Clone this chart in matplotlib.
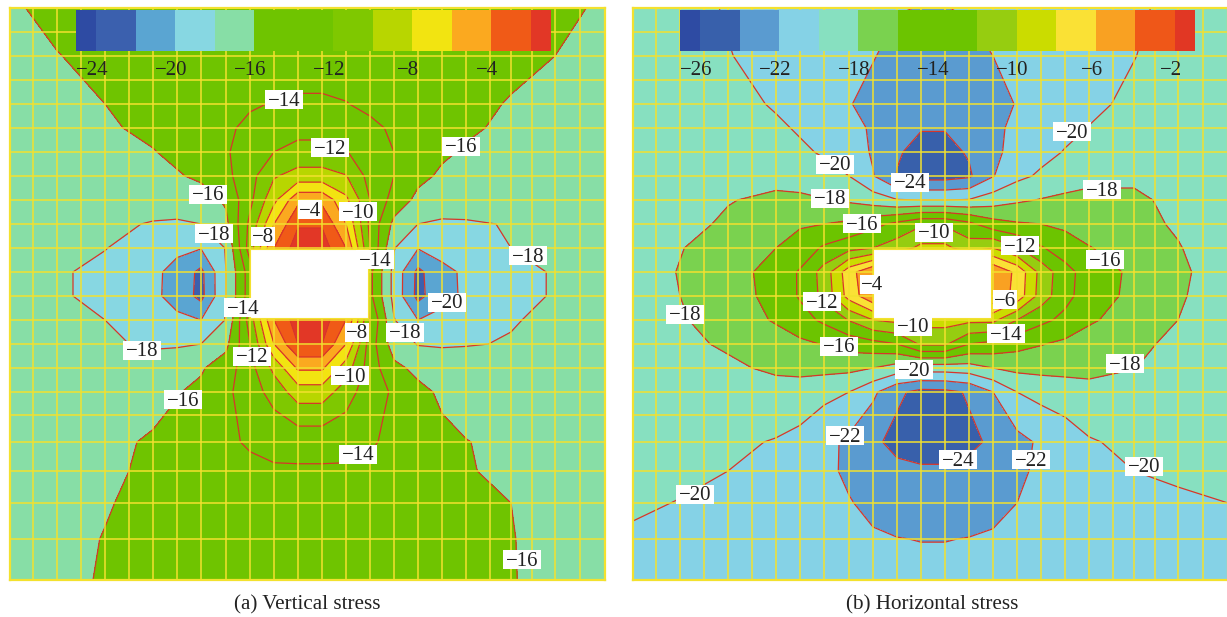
import numpy as np
import matplotlib
matplotlib.use("Agg")
import matplotlib.pyplot as plt
from matplotlib.patches import Rectangle
from matplotlib.transforms import ScaledTranslation

plt.rcParams['font.family'] = ['Liberation Serif', 'DejaVu Serif']

# Mesh drawn on top of the maps
mesh_x = [10, 33, 57, 81, 105, 129, 153, 177, 201, 226, 250, 274, 298, 322, 346, 370, 394, 418, 442, 466, 490, 511, 532, 555, 580, 605]
mesh_y = [8, 32, 56, 80, 104, 128, 152, 176, 200, 224, 248, 272, 296, 320, 344, 368, 392, 415, 442, 471, 503, 539, 580]

node_x = [10, 57, 105, 153, 177, 201, 226, 250, 274, 298, 322, 346, 370, 394, 418, 442, 466, 511, 555, 605]
node_y = [8, 56, 104, 128, 152, 176, 200, 224, 248, 272, 296, 320, 344, 368, 392, 442, 471, 503, 539, 580]

vertical_stress = [
    [-16.2, -15.6, -15.4, -15.3, -15.3, -15.3, -15.3, -15.3, -15.2, -15.2, -15.2, -15.2, -15.3, -15.3, -15.3, -15.3, -15.4, -15.4, -15.5, -16.3],
    [-16.8, -16.05, -15.6, -15.2, -15.1, -15.0, -15.0, -14.9, -14.8, -14.7, -14.7, -14.8, -14.9, -15.0, -15.0, -15.1, -15.2, -15.6, -16.0, -16.8],
    [-17.3, -16.7, -16.0, -15.4, -15.2, -15.0, -14.7, -14.2, -13.9, -13.8, -13.8, -13.95, -14.3, -14.8, -15.0, -15.3, -15.6, -16.1, -16.7, -17.3],
    [-17.4, -16.9, -16.3, -15.5, -15.2, -14.9, -14.3, -13.6, -13.0, -12.6, -12.6, -13.0, -13.7, -14.2, -14.7, -15.2, -15.7, -16.4, -16.9, -17.4],
    [-17.5, -17.1, -16.7, -16.1, -15.5, -14.9, -14.2, -13.0, -12.0, -11.4, -11.4, -11.9, -13.0, -14.0, -14.7, -15.7, -16.2, -16.8, -17.1, -17.5],
    [-17.5, -17.3, -17.1, -16.7, -16.2, -15.6, -14.5, -12.7, -10.2, -9.2, -9.2, -9.9, -12.7, -14.0, -15.5, -16.3, -16.7, -17.1, -17.3, -17.5],
    [-17.5, -17.4, -17.4, -17.3, -17.2, -17.0, -15.7, -12.5, -8.5, -4.5, -4.5, -7.5, -12.0, -14.8, -16.5, -16.9, -17.1, -17.3, -17.4, -17.5],
    [-17.5, -17.5, -17.7, -18.1, -18.2, -18.0, -16.5, -11.5, -6.0, -2.2, -2.2, -6.0, -12.5, -16.5, -18.0, -18.3, -18.2, -17.9, -17.6, -17.5],
    [-17.5, -17.7, -17.95, -18.8, -19.6, -19.9, -17.9, -11.0, -4.0, -1.0, -1.0, -4.0, -12.0, -17.9, -19.9, -19.3, -18.8, -18.0, -17.7, -17.5],
    [-17.6, -17.8, -18.4, -19.6, -20.6, -22.5, -18.0, -13.0, -4.0, -1.0, -1.0, -4.0, -13.5, -18.6, -22.5, -20.5, -19.7, -18.4, -17.9, -17.6],
    [-17.6, -17.8, -18.4, -19.6, -20.7, -22.6, -18.0, -13.0, -4.0, -1.0, -1.0, -4.0, -13.5, -18.6, -22.6, -20.6, -19.7, -18.4, -17.9, -17.6],
    [-17.5, -17.7, -18.0, -18.8, -19.6, -20.0, -17.9, -11.0, -4.0, -1.0, -1.0, -4.0, -12.0, -17.9, -20.0, -19.4, -18.8, -18.1, -17.7, -17.5],
    [-17.4, -17.6, -17.8, -18.2, -18.2, -18.0, -16.5, -12.0, -6.0, -2.0, -2.0, -6.0, -13.0, -17.0, -18.1, -18.2, -18.1, -17.9, -17.6, -17.4],
    [-17.3, -17.4, -17.4, -17.3, -16.9, -16.2, -15.0, -12.7, -9.5, -5.7, -5.7, -9.0, -13.0, -15.5, -16.5, -16.9, -17.1, -17.3, -17.4, -17.3],
    [-17.2, -17.2, -17.1, -16.6, -16.1, -15.6, -14.4, -13.0, -11.2, -9.0, -9.0, -11.0, -13.3, -14.2, -15.5, -16.3, -16.7, -17.0, -17.1, -17.2],
    [-17.0, -16.8, -16.4, -15.8, -15.4, -15.0, -14.3, -13.8, -13.5, -13.4, -13.4, -13.5, -13.8, -14.4, -15.0, -15.6, -15.95, -16.4, -16.8, -17.0],
    [-17.0, -16.7, -16.3, -15.7, -15.4, -15.1, -14.7, -14.4, -14.2, -14.2, -14.2, -14.2, -14.4, -14.7, -15.1, -15.5, -15.9, -16.3, -16.7, -17.0],
    [-16.9, -16.5, -16.1, -15.6, -15.4, -15.2, -15.0, -14.9, -14.8, -14.7, -14.7, -14.8, -14.9, -15.0, -15.2, -15.4, -15.6, -16.0, -16.5, -16.9],
    [-16.7, -16.4, -15.95, -15.6, -15.4, -15.3, -15.2, -15.1, -15.0, -15.0, -15.0, -15.0, -15.1, -15.2, -15.3, -15.5, -15.7, -15.95, -16.4, -16.7],
    [-16.6, -16.3, -15.9, -15.6, -15.5, -15.4, -15.3, -15.3, -15.3, -15.3, -15.3, -15.3, -15.3, -15.3, -15.4, -15.5, -15.6, -15.95, -16.3, -16.6],
]

horizontal_stress = [
    [-18.6, -19.1, -20.2, -20.8, -21.0, -21.3, -21.6, -21.8, -21.9, -22.05, -22.05, -21.8, -21.6, -21.4, -21.1, -20.9, -20.6, -20.3, -19.5, -18.6],
    [-18.4, -19.0, -19.9, -20.8, -21.1, -21.5, -21.8, -21.9, -22.6, -23.0, -23.0, -22.7, -22.0, -21.6, -21.2, -20.9, -20.6, -20.05, -19.2, -18.4],
    [-18.2, -18.6, -19.3, -20.2, -20.8, -21.3, -21.9, -22.6, -23.1, -23.5, -23.5, -23.2, -22.7, -21.9, -21.3, -20.8, -20.4, -19.6, -18.9, -18.2],
    [-18.2, -18.4, -18.9, -19.7, -20.2, -20.8, -21.5, -22.2, -23.0, -23.9, -23.9, -23.2, -22.4, -21.6, -21.0, -20.5, -19.95, -19.2, -18.6, -18.2],
    [-18.2, -18.2, -18.6, -19.2, -19.7, -20.2, -21.0, -22.2, -23.8, -24.6, -24.6, -23.8, -22.4, -21.4, -20.6, -19.9, -19.4, -18.8, -18.3, -18.2],
    [-18.3, -18.3, -18.4, -18.6, -18.9, -19.4, -20.0, -21.9, -24.1, -24.8, -24.8, -24.3, -22.1, -20.5, -19.7, -19.0, -18.5, -18.3, -18.3, -18.3],
    [-18.8, -18.6, -18.1, -17.6, -17.6, -17.9, -18.3, -19.0, -19.9, -20.0, -20.0, -19.9, -19.0, -18.3, -17.9, -17.6, -17.5, -17.7, -18.4, -18.8],
    [-19.0, -18.6, -17.7, -16.8, -16.2, -16.0, -15.6, -14.6, -13.5, -12.3, -12.3, -13.5, -15.2, -15.8, -16.0, -16.4, -16.9, -17.5, -18.2, -19.0],
    [-19.0, -18.1, -17.0, -16.0, -15.2, -13.7, -12.7, -12.0, -11.0, -9.5, -9.5, -11.0, -10.0, -11.8, -13.8, -15.0, -15.9, -17.0, -17.9, -19.0],
    [-19.0, -17.9, -16.9, -15.2, -13.8, -11.2, -6.8, -4.2, -4.2, -4.2, -4.2, -4.2, -4.2, -6.5, -10.7, -13.3, -14.9, -16.4, -17.7, -18.8],
    [-19.0, -18.0, -17.0, -15.3, -13.8, -11.4, -7.2, -4.4, -4.4, -4.4, -4.4, -4.4, -4.4, -6.7, -10.9, -13.4, -15.0, -16.5, -17.8, -18.9],
    [-19.0, -18.2, -17.1, -15.8, -14.8, -13.6, -11.9, -10.0, -9.5, -9.2, -9.2, -9.5, -9.5, -12.0, -13.5, -14.5, -15.7, -17.0, -18.0, -19.0],
    [-19.0, -18.5, -17.7, -16.9, -16.4, -15.9, -15.2, -14.7, -14.0, -11.7, -11.7, -14.0, -14.6, -15.3, -15.9, -16.4, -17.0, -17.7, -18.3, -19.1],
    [-19.2, -19.0, -18.4, -17.6, -17.4, -17.4, -17.5, -18.0, -18.9, -19.1, -19.1, -18.9, -18.0, -17.5, -17.4, -17.4, -17.4, -17.95, -18.9, -19.2],
    [-19.3, -19.2, -19.0, -18.9, -19.0, -19.5, -20.0, -21.6, -23.6, -24.6, -24.5, -23.8, -22.0, -20.0, -19.4, -19.0, -18.7, -18.8, -19.2, -19.4],
    [-19.5, -19.4, -19.7, -20.1, -20.5, -21.4, -22.4, -23.6, -24.6, -25.0, -25.0, -24.4, -23.7, -22.6, -21.7, -21.0, -20.15, -19.6, -19.3, -19.4],
    [-19.6, -19.7, -20.0, -20.6, -21.0, -21.6, -22.3, -23.0, -23.5, -23.7, -23.7, -23.5, -23.0, -22.4, -21.6, -21.0, -20.6, -20.0, -19.7, -19.6],
    [-19.8, -20.05, -20.4, -20.8, -21.0, -21.4, -21.9, -22.4, -22.9, -23.0, -23.0, -22.9, -22.5, -22.0, -21.5, -21.2, -20.9, -20.6, -20.3, -20.0],
    [-20.2, -20.4, -20.7, -21.0, -21.2, -21.4, -21.6, -21.8, -21.95, -22.05, -22.05, -21.95, -21.8, -21.5, -21.3, -21.2, -21.0, -20.8, -20.6, -20.4],
    [-20.6, -20.7, -20.8, -21.0, -21.1, -21.2, -21.3, -21.4, -21.4, -21.4, -21.4, -21.4, -21.4, -21.3, -21.2, -21.1, -21.0, -20.9, -20.7, -20.6],
]

# Contour levels and band colours (first and last are the open ended bands)
vertical_levels = [-24, -22, -20, -18, -16, -14, -12, -10, -8, -6, -4, -2]
vertical_colors = ['#2e4ba3', '#3b60ae', '#5aa5d2', '#87d7e2', '#87dea6', '#6fc400', '#6fc400',
                   '#7fc800', '#b8d600', '#f2e411', '#fba91f', '#f05a17', '#e23726']
vertical_ticks = [-24, -20, -16, -12, -8, -4]

horizontal_levels = [-26, -24, -22, -20, -18, -16, -14, -12, -10, -8, -6, -4, -2]
horizontal_colors = ['#2e4ba3', '#3860ab', '#5a9bd0', '#85d2e6', '#87e0c0', '#7ad24f', '#6cc400', '#6cc400',
                     '#96cd10', '#cbdc00', '#fae135', '#f9a122', '#ef5718', '#e13724']
horizontal_ticks = [-26, -22, -18, -14, -10, -6, -2]

# Inline contour labels: text, x, y
vertical_labels = [
    (-14, 284, 101), (-12, 330, 149), (-16, 461, 148), (-16, 208, 196), (-4, 310, 211),
    (-10, 358, 213), (-18, 214, 235), (-8, 263, 238), (-14, 375, 261), (-18, 528, 257),
    (-14, 243, 309), (-20, 447, 304), (-8, 357, 334), (-18, 405, 334), (-18, 142, 352),
    (-12, 252, 358), (-10, 350, 377), (-16, 183, 401), (-14, 358, 456), (-16, 522, 561),
]
horizontal_labels = [
    (-20, 449, 133), (-20, 212, 166), (-24, 287, 184), (-18, 479, 191), (-18, 207, 200),
    (-16, 239, 225), (-10, 311, 234), (-12, 397, 247), (-16, 482, 261), (-4, 249, 286),
    (-12, 199, 303), (-6, 382, 301), (-18, 62, 316), (-10, 290, 328), (-14, 383, 335),
    (-16, 216, 348), (-18, 502, 365), (-20, 291, 371), (-22, 222, 437), (-24, 335, 461),
    (-22, 408, 461), (-20, 521, 468), (-20, 72, 496),
]

W, H = 1227, 617
YELLOW = '#f3e12e'
RED = '#d8352a'


def px_axes(fig, left, top, right, bottom):
    return fig.add_axes([left / W, 1 - bottom / H, (right - left) / W, (bottom - top) / H])


def minus(v):
    return "\u2212" + str(abs(v))


def draw_panel(fig, left, right, stress, levels, colors, ticks, labels, bar, caption, cap_x):
    ax = px_axes(fig, left, 8, right, 580)
    cf = ax.contourf(node_x, node_y, stress, levels=levels, colors=colors, extend='both')
    ax.contour(node_x, node_y, stress, levels=levels, colors=RED, linewidths=0.9, linestyles='solid')

    ax.vlines(mesh_x, 8, 580, color=YELLOW, lw=1.1, zorder=3)
    ax.hlines(mesh_y, 10, 605, color=YELLOW, lw=1.1, zorder=3)

    # opening in the middle of the model
    ax.add_patch(Rectangle((250, 249), 118, 69, fc='white', ec=YELLOW, lw=0.8, zorder=4))

    # white plates behind the contour labels
    for v, x, y in labels:
        w = 38 if abs(v) >= 10 else 24
        ax.add_patch(Rectangle((x - w / 2, y - 11.5), w, 19, fc='white', ec='none', zorder=5))
        ax.text(x, y, minus(v), ha='center', va='center', fontsize=15, color='#222222', zorder=6)

    ax.set_xlim(10, 605)
    ax.set_ylim(580, 8)
    ax.set_xticks([])
    ax.set_yticks([])
    for s in ax.spines.values():
        s.set_color(YELLOW)
        s.set_linewidth(1.6)

    cax = px_axes(fig, bar[0], 10, bar[1], 51)
    frac = 20 / (39.6 * (len(levels) - 1))
    cb = fig.colorbar(cf, cax=cax, orientation='horizontal', extendrect=True, extendfrac=frac, ticks=ticks)
    cb.outline.set_visible(False)
    cb.ax.tick_params(length=0, pad=7, labelsize=15, labelcolor='#222222')
    cb.ax.set_xticklabels([minus(t) for t in ticks])
    shift = ScaledTranslation(-4 / 100, 0, fig.dpi_scale_trans)
    for lab in cb.ax.get_xticklabels():
        lab.set_transform(lab.get_transform() + shift)

    fig.text(cap_x / W, 1 - 605 / H, caption, ha='center', va='center', fontsize=15.2, color='#222222')


fig = plt.figure(figsize=(W / 100, H / 100), dpi=100)

draw_panel(fig, 10, 605, vertical_stress, vertical_levels, vertical_colors, vertical_ticks,
           vertical_labels, (76, 551), "(a) Vertical stress", 307)
draw_panel(fig, 633, 1228, horizontal_stress, horizontal_levels, horizontal_colors, horizontal_ticks,
           horizontal_labels, (680, 1195), "(b) Horizontal stress", 932)

fig.savefig("out.png", dpi=100)
